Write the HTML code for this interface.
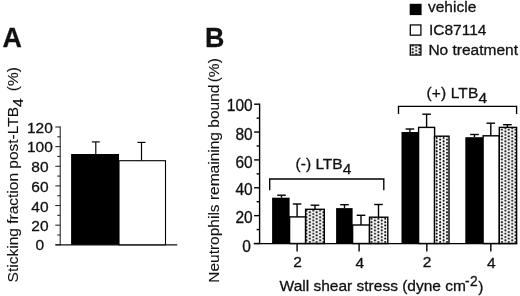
<!DOCTYPE html>
<html><head><meta charset="utf-8"><title>Figure</title>
<style>
html,body{margin:0;padding:0;background:#fff;}
body{width:520px;height:296px;overflow:hidden;}
svg{display:block;filter:grayscale(1) blur(0.25px);font-family:"Liberation Sans", Arial, Helvetica, sans-serif;fill:#111;}
text{stroke:#111;stroke-width:0.3px;stroke-linejoin:round;}
text.r{stroke-width:0.12px;}
</style></head><body>
<svg width="520" height="296" viewBox="0 0 520 296">
<defs>
<pattern id="dots" patternUnits="userSpaceOnUse" width="6.86" height="3.3" x="0" y="0">
<rect width="6.86" height="3.3" fill="#fff"/>
<circle cx="1.12" cy="1.1" r="1.0" fill="#000"/>
<circle cx="4.55" cy="2.75" r="1.0" fill="#000"/>
<circle cx="4.55" cy="-0.55" r="1.0" fill="#000"/>
</pattern>
<pattern id="dots2" patternUnits="userSpaceOnUse" width="6.86" height="3.3" x="0" y="1.8">
<rect width="6.86" height="3.3" fill="#fff"/>
<circle cx="1.12" cy="1.1" r="1.0" fill="#000"/>
<circle cx="4.55" cy="2.75" r="1.0" fill="#000"/>
<circle cx="4.55" cy="-0.55" r="1.0" fill="#000"/>
</pattern>
</defs>
<rect width="520" height="296" fill="#fff"/>
<text x="2.50" y="47.00" font-size="26.8" font-weight="bold" text-anchor="start" >A</text>
<text x="205.00" y="47.40" font-size="26.8" font-weight="bold" text-anchor="start" >B</text>
<line x1="60.20" y1="126.50" x2="60.20" y2="245.30" stroke="#222" stroke-width="1.05"/>
<line x1="55.50" y1="244.90" x2="177.20" y2="244.90" stroke="#111" stroke-width="1.1"/>
<line x1="55.30" y1="244.80" x2="60.30" y2="244.80" stroke="#222" stroke-width="1.05"/>
<text x="39.90" y="249.90" font-size="15.5" font-weight="normal" text-anchor="middle" >0</text>
<line x1="57.30" y1="234.98" x2="60.30" y2="234.98" stroke="#222" stroke-width="1.05"/>
<line x1="55.30" y1="225.17" x2="60.30" y2="225.17" stroke="#222" stroke-width="1.05"/>
<text x="39.90" y="230.60" font-size="15.5" font-weight="normal" text-anchor="middle" >20</text>
<line x1="57.30" y1="215.35" x2="60.30" y2="215.35" stroke="#222" stroke-width="1.05"/>
<line x1="55.30" y1="205.53" x2="60.30" y2="205.53" stroke="#222" stroke-width="1.05"/>
<text x="39.90" y="211.70" font-size="15.5" font-weight="normal" text-anchor="middle" >40</text>
<line x1="57.30" y1="195.72" x2="60.30" y2="195.72" stroke="#222" stroke-width="1.05"/>
<line x1="55.30" y1="185.90" x2="60.30" y2="185.90" stroke="#222" stroke-width="1.05"/>
<text x="39.90" y="191.70" font-size="15.5" font-weight="normal" text-anchor="middle" >60</text>
<line x1="57.30" y1="176.08" x2="60.30" y2="176.08" stroke="#222" stroke-width="1.05"/>
<line x1="55.30" y1="166.27" x2="60.30" y2="166.27" stroke="#222" stroke-width="1.05"/>
<text x="39.90" y="171.70" font-size="15.5" font-weight="normal" text-anchor="middle" >80</text>
<line x1="57.30" y1="156.45" x2="60.30" y2="156.45" stroke="#222" stroke-width="1.05"/>
<line x1="55.30" y1="146.63" x2="60.30" y2="146.63" stroke="#222" stroke-width="1.05"/>
<text x="39.90" y="152.00" font-size="15.5" font-weight="normal" text-anchor="middle" >100</text>
<line x1="57.30" y1="136.82" x2="60.30" y2="136.82" stroke="#222" stroke-width="1.05"/>
<line x1="55.30" y1="127.00" x2="60.30" y2="127.00" stroke="#222" stroke-width="1.05"/>
<text x="39.90" y="133.00" font-size="15.5" font-weight="normal" text-anchor="middle" >120</text>
<line x1="95.80" y1="141.90" x2="95.80" y2="154.00" stroke="#000" stroke-width="1.15"/>
<line x1="91.80" y1="141.90" x2="99.80" y2="141.90" stroke="#000" stroke-width="1.15"/>
<line x1="141.50" y1="142.40" x2="141.50" y2="160.70" stroke="#000" stroke-width="1.15"/>
<line x1="137.50" y1="142.40" x2="145.50" y2="142.40" stroke="#000" stroke-width="1.15"/>
<rect x="71.10" y="154.00" width="47.90" height="90.80" fill="#000" stroke="none" stroke-width="0"/>
<rect x="119.00" y="160.70" width="46.50" height="84.10" fill="#fff" stroke="#000" stroke-width="1.1"/>
<text class="r" transform="translate(17.5,282.4) rotate(-90)" font-size="15.5">Sticking fraction post-LTB<tspan dy="5">4</tspan><tspan dy="-5" dx="2.8"> (%)</tspan></text>
<line x1="259.60" y1="103.60" x2="259.60" y2="244.10" stroke="#000" stroke-width="1.4"/>
<line x1="253.80" y1="243.60" x2="517.30" y2="243.60" stroke="#000" stroke-width="1.4"/>
<line x1="254.10" y1="243.50" x2="259.60" y2="243.50" stroke="#000" stroke-width="1.4"/>
<text transform="translate(250.8,251.8) scale(1,1.06)" font-size="15.5" text-anchor="end">0</text>
<line x1="256.60" y1="229.57" x2="259.60" y2="229.57" stroke="#000" stroke-width="1.4"/>
<line x1="254.10" y1="215.64" x2="259.60" y2="215.64" stroke="#000" stroke-width="1.4"/>
<text transform="translate(252.7,222.8) scale(1,1.06)" font-size="15.5" text-anchor="end">20</text>
<line x1="256.60" y1="201.71" x2="259.60" y2="201.71" stroke="#000" stroke-width="1.4"/>
<line x1="254.10" y1="187.78" x2="259.60" y2="187.78" stroke="#000" stroke-width="1.4"/>
<text transform="translate(252.7,195.0) scale(1,1.06)" font-size="15.5" text-anchor="end">40</text>
<line x1="256.60" y1="173.85" x2="259.60" y2="173.85" stroke="#000" stroke-width="1.4"/>
<line x1="254.10" y1="159.92" x2="259.60" y2="159.92" stroke="#000" stroke-width="1.4"/>
<text transform="translate(252.7,167.5) scale(1,1.06)" font-size="15.5" text-anchor="end">60</text>
<line x1="256.60" y1="145.99" x2="259.60" y2="145.99" stroke="#000" stroke-width="1.4"/>
<line x1="254.10" y1="132.06" x2="259.60" y2="132.06" stroke="#000" stroke-width="1.4"/>
<text transform="translate(252.7,139.8) scale(1,1.06)" font-size="15.5" text-anchor="end">80</text>
<line x1="256.60" y1="118.13" x2="259.60" y2="118.13" stroke="#000" stroke-width="1.4"/>
<line x1="254.10" y1="104.20" x2="259.60" y2="104.20" stroke="#000" stroke-width="1.4"/>
<text transform="translate(252.7,110.7) scale(1,1.06)" font-size="15.5" text-anchor="end">100</text>
<text class="r" transform="translate(219.3,282.8) rotate(-90)" font-size="15.5">Neutrophils remaining bound<tspan dx="-2"> (%)</tspan></text>
<line x1="281.50" y1="195.20" x2="281.50" y2="197.70" stroke="#000" stroke-width="1.4"/>
<line x1="277.20" y1="195.20" x2="285.80" y2="195.20" stroke="#000" stroke-width="1.4"/>
<line x1="297.10" y1="204.00" x2="297.10" y2="216.90" stroke="#000" stroke-width="1.4"/>
<line x1="292.80" y1="204.00" x2="301.40" y2="204.00" stroke="#000" stroke-width="1.4"/>
<line x1="315.00" y1="205.20" x2="315.00" y2="209.30" stroke="#000" stroke-width="1.4"/>
<line x1="310.70" y1="205.20" x2="319.30" y2="205.20" stroke="#000" stroke-width="1.4"/>
<rect x="272.10" y="197.70" width="17.50" height="45.80" fill="#000" stroke="none" stroke-width="0"/>
<rect x="289.60" y="216.90" width="16.00" height="26.60" fill="#fff" stroke="#000" stroke-width="1.4"/>
<rect x="305.60" y="209.30" width="18.70" height="34.20" fill="url(#dots)" stroke="#000" stroke-width="1.4"/>
<line x1="344.50" y1="204.70" x2="344.50" y2="208.10" stroke="#000" stroke-width="1.4"/>
<line x1="340.20" y1="204.70" x2="348.80" y2="204.70" stroke="#000" stroke-width="1.4"/>
<line x1="361.00" y1="215.30" x2="361.00" y2="225.00" stroke="#000" stroke-width="1.4"/>
<line x1="356.70" y1="215.30" x2="365.30" y2="215.30" stroke="#000" stroke-width="1.4"/>
<line x1="378.50" y1="204.50" x2="378.50" y2="217.20" stroke="#000" stroke-width="1.4"/>
<line x1="374.20" y1="204.50" x2="382.80" y2="204.50" stroke="#000" stroke-width="1.4"/>
<rect x="336.10" y="208.10" width="16.50" height="35.40" fill="#000" stroke="none" stroke-width="0"/>
<rect x="352.60" y="225.00" width="16.90" height="18.50" fill="#fff" stroke="#000" stroke-width="1.4"/>
<rect x="369.50" y="217.20" width="18.30" height="26.30" fill="url(#dots)" stroke="#000" stroke-width="1.4"/>
<line x1="409.90" y1="129.00" x2="409.90" y2="132.00" stroke="#000" stroke-width="1.4"/>
<line x1="405.60" y1="129.00" x2="414.20" y2="129.00" stroke="#000" stroke-width="1.4"/>
<line x1="426.60" y1="114.20" x2="426.60" y2="127.40" stroke="#000" stroke-width="1.4"/>
<line x1="422.30" y1="114.20" x2="430.90" y2="114.20" stroke="#000" stroke-width="1.4"/>
<rect x="401.50" y="132.00" width="17.20" height="111.50" fill="#000" stroke="none" stroke-width="0"/>
<rect x="418.60" y="127.40" width="16.00" height="116.10" fill="#fff" stroke="#000" stroke-width="1.4"/>
<rect x="434.50" y="136.20" width="14.50" height="107.30" fill="url(#dots)" stroke="#000" stroke-width="1.4"/>
<line x1="474.50" y1="134.50" x2="474.50" y2="137.20" stroke="#000" stroke-width="1.4"/>
<line x1="470.20" y1="134.50" x2="478.80" y2="134.50" stroke="#000" stroke-width="1.4"/>
<line x1="490.80" y1="123.20" x2="490.80" y2="135.80" stroke="#000" stroke-width="1.4"/>
<line x1="486.50" y1="123.20" x2="495.10" y2="123.20" stroke="#000" stroke-width="1.4"/>
<line x1="507.40" y1="124.70" x2="507.40" y2="127.40" stroke="#000" stroke-width="1.4"/>
<line x1="503.10" y1="124.70" x2="511.70" y2="124.70" stroke="#000" stroke-width="1.4"/>
<rect x="465.30" y="137.20" width="17.80" height="106.30" fill="#000" stroke="none" stroke-width="0"/>
<rect x="483.10" y="135.80" width="16.20" height="107.70" fill="#fff" stroke="#000" stroke-width="1.4"/>
<rect x="499.30" y="127.40" width="17.30" height="116.10" fill="url(#dots)" stroke="#000" stroke-width="1.4"/>
<line x1="297.10" y1="243.50" x2="297.10" y2="251.50" stroke="#000" stroke-width="1.4"/>
<text x="297.50" y="267.40" font-size="15.5" font-weight="normal" text-anchor="middle" >2</text>
<line x1="359.10" y1="243.50" x2="359.10" y2="251.50" stroke="#000" stroke-width="1.4"/>
<text x="359.70" y="268.10" font-size="15.5" font-weight="normal" text-anchor="middle" >4</text>
<line x1="426.80" y1="243.50" x2="426.80" y2="251.50" stroke="#000" stroke-width="1.4"/>
<text x="427.10" y="267.40" font-size="15.5" font-weight="normal" text-anchor="middle" >2</text>
<line x1="490.80" y1="243.50" x2="490.80" y2="251.50" stroke="#000" stroke-width="1.4"/>
<text x="491.40" y="268.10" font-size="15.5" font-weight="normal" text-anchor="middle" >4</text>
<text x="279.60" y="290.90" font-size="15.5" font-weight="normal" text-anchor="start" >Wall shear stress (dyne cm</text>
<text x="465.00" y="286.10" font-size="13.8" font-weight="normal" text-anchor="start" letter-spacing="0.5">-2</text>
<text x="478.20" y="291.60" font-size="15.5" font-weight="normal" text-anchor="start" >)</text>
<polyline points="269.7,190.2 269.7,179 383.8,179 383.8,190.2" fill="none" stroke="#000" stroke-width="1.35"/>
<polyline points="398.5,114 398.5,106.3 516.6,106.3 516.6,114" fill="none" stroke="#000" stroke-width="1.35"/>
<text x="295.60" y="168.80" font-size="15.5" font-weight="normal" text-anchor="start" >(-) LTB<tspan dy="4.9">4</tspan></text>
<text x="426.40" y="98.20" font-size="15.5" font-weight="normal" text-anchor="start" letter-spacing="0.15">(+) LTB<tspan dy="4.9">4</tspan></text>
<rect x="409.70" y="3.80" width="11.90" height="11.30" fill="#000" stroke="none" stroke-width="0"/>
<rect x="410.30" y="24.95" width="10.60" height="10.20" fill="#fff" stroke="#000" stroke-width="1.25"/>
<rect x="410.30" y="44.95" width="10.60" height="10.10" fill="url(#dots2)" stroke="#000" stroke-width="1.3"/>
<text x="428.00" y="11.90" font-size="15.5" font-weight="normal" text-anchor="start" >vehicle</text>
<text x="429.00" y="35.00" font-size="15.5" font-weight="normal" text-anchor="start" >IC87114</text>
<text x="428.40" y="54.80" font-size="15.5" font-weight="normal" text-anchor="start" >No treatment</text>
</svg>
</body></html>
